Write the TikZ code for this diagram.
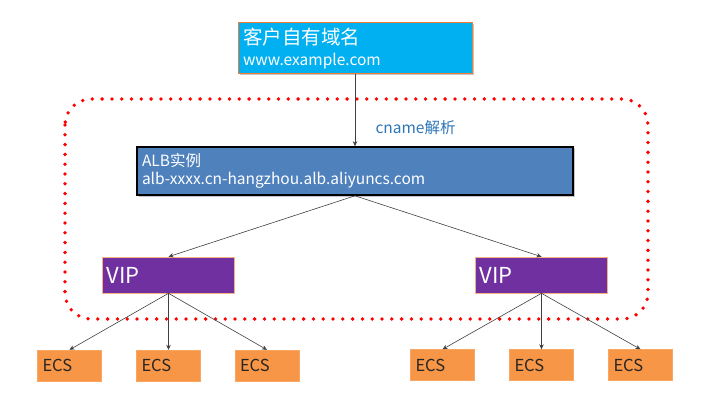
\documentclass[tikz,border=0pt]{standalone}
\usepackage{fontspec}
\setmainfont{Noto Sans CJK SC}
\usetikzlibrary{shadows,arrows.meta}
\definecolor{cyanbox}{HTML}{00B0F0}
\definecolor{albblue}{HTML}{4F81BD}
\definecolor{vippurple}{HTML}{7030A0}
\definecolor{ecsorange}{HTML}{F79646}
\definecolor{edgeorange}{HTML}{ED7D31}
\definecolor{labelblue}{HTML}{2E75B6}
\definecolor{linegray}{HTML}{404040}
\begin{document}
\begin{tikzpicture}[x=1pt,y=-1pt,
  box/.style={rectangle, inner xsep=5pt, inner ysep=0pt, align=left},
  dombox/.style={box, fill=cyanbox, draw=edgeorange, line width=0.8pt, text=white,
     minimum width=234pt, minimum height=51pt, text width=224pt,
     drop shadow={shadow xshift=1.5pt, shadow yshift=-1.5pt, fill=black!45}},
  albbox/.style={box, fill=albblue, draw=black, line width=1.6pt, text=white,
     minimum width=436pt, minimum height=48pt, text width=426pt,
     drop shadow={shadow xshift=1.5pt, shadow yshift=-1.5pt, fill=black!45},
     font=\fontsize{15.5}{18}\selectfont},
  vipbox/.style={box, fill=vippurple, draw=edgeorange!60, line width=0.6pt, text=white,
     minimum width=132pt, minimum height=36pt, text width=124pt, inner xsep=4pt,
     font=\fontsize{22}{24}\selectfont},
  ecsbox/.style={box, fill=ecsorange, draw=ecsorange!85!white, line width=0.4pt, text=black!85,
     minimum width=64pt, minimum height=31pt, text width=54pt,
     font=\fontsize{16.5}{18}\selectfont},
  conn/.style={draw=linegray, line width=0.6pt, -{Stealth[length=5pt,width=4.5pt]}},
  region/.style={draw=red, line width=3.8pt, line cap=round, dash pattern=on 0pt off 9.8pt, rounded corners=26pt}
]
\useasboundingbox (0,0) rectangle (715,401);

% dotted region
\draw[region] (65,99) rectangle (648,319);

% nodes
\node[dombox, font=\fontsize{15.5}{21}\selectfont] (dom) at (355,48) {{\fontsize{19.5}{21}\selectfont 客户自有域名}\\www.example.com};
\node[albbox] (alb) at (355,171) {ALB实例\\alb-xxxx.cn-hangzhou.alb.aliyuncs.com};
\node[text=labelblue, anchor=west, font=\fontsize{15.5}{17}\selectfont] (cname) at (372,128) {cname解析};

\node[vipbox] (vipL) at (168.5,275) {VIP};
\node[vipbox] (vipR) at (541.5,275) {VIP};

\node[ecsbox] (e1) at (69.5,365.5) {ECS};
\node[ecsbox] (e2) at (168.5,365.5) {ECS};
\node[ecsbox] (e3) at (267,365.5) {ECS};
\node[ecsbox] (e4) at (442.5,365) {ECS};
\node[ecsbox] (e5) at (541.5,365) {ECS};
\node[ecsbox] (e6) at (640.5,365) {ECS};

% connectors
\draw[conn] (dom.south) -- (alb.north);
\draw[conn] (alb.south) -- (vipL.north);
\draw[conn] (alb.south) -- (vipR.north);
\draw[conn] (vipL.south) -- (e1.north);
\draw[conn] (vipL.south) -- (e2.north);
\draw[conn] (vipL.south) -- (e3.north);
\draw[conn] (vipR.south) -- (e4.north);
\draw[conn] (vipR.south) -- (e5.north);
\draw[conn] (vipR.south) -- (e6.north);
\end{tikzpicture}
\end{document}
